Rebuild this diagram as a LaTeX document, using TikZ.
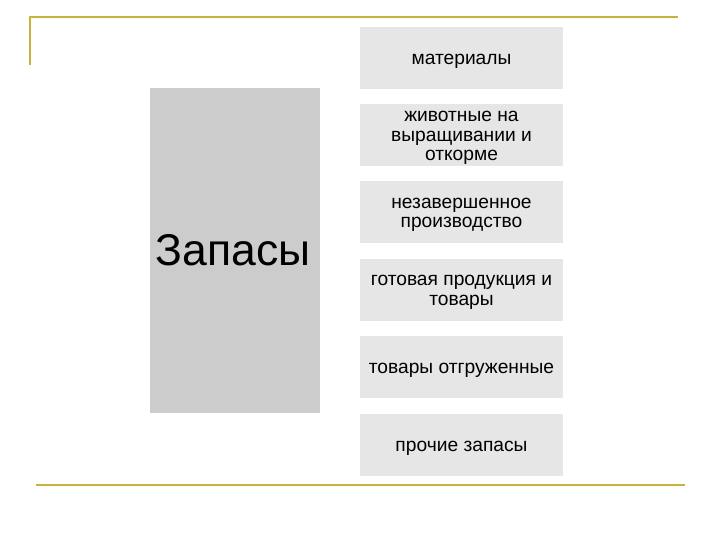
\documentclass[tikz,border=0pt]{standalone}
\usepackage{fontspec}
\setmainfont{Liberation Sans}
\definecolor{goldline}{RGB}{200,178,60}
\definecolor{bigfill}{RGB}{204,204,204}
\definecolor{itemfill}{RGB}{230,230,230}
\begin{document}
\begin{tikzpicture}[x=1pt,y=-1pt,
  rule/.style={draw=goldline, line width=2pt},
  stockbox/.style={fill=bigfill, draw=none, minimum width=170pt, minimum height=325pt, inner sep=0pt},
  itembox/.style={fill=itemfill, draw=none, minimum width=203pt, minimum height=62pt, inner sep=0pt},
  itemtext/.style={align=center, inner sep=0pt, yshift=-3pt, font=\fontsize{19.2}{19.5}\selectfont}]
\useasboundingbox (0,0) rectangle (720,540);
% frame lines
\draw [rule] (30,65) -- (30,17.5) -- (678,17.5);
\draw [rule] (36,485) -- (685,485);
% left block
\node [stockbox] (zapasy) at (235,250.5) {};
\node [anchor=west, font=\fontsize{44.5}{50}\selectfont] (zapasytxt) at (152,250) {Запасы};
% items
\node [itembox] (mat) at (461.5,58) {};
\node [itembox] (zhiv) at (461.5,135) {};
\node [itembox] (nezav) at (461.5,212) {};
\node [itembox] (gotov) at (461.5,289.5) {};
\node [itembox] (otgr) at (461.5,367) {};
\node [itembox] (proch) at (461.5,445) {};
\node [itemtext] (mattxt) at (mat.center) {материалы};
\node [itemtext] (zhivtxt) at (zhiv.center) {животные на\\выращивании и\\откорме};
\node [itemtext] (nezavtxt) at (nezav.center) {незавершенное\\производство};
\node [itemtext] (gotovtxt) at (gotov.center) {готовая продукция и\\товары};
\node [itemtext] (otgrtxt) at (otgr.center) {товары отгруженные};
\node [itemtext] (prochtxt) at (proch.center) {прочие запасы};
\end{tikzpicture}
\end{document}
